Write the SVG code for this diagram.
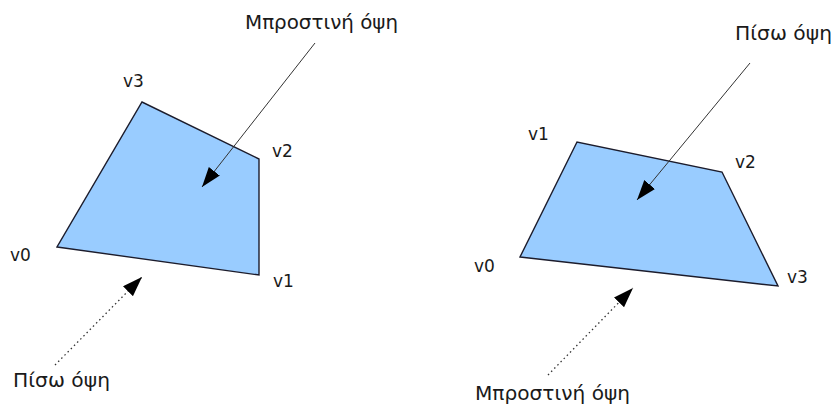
<svg xmlns="http://www.w3.org/2000/svg" width="835" height="408" viewBox="0 0 835 408">
<style>
.face{fill:#99ccff;stroke:#1c1c2c;stroke-width:1.4;stroke-linejoin:miter}
.lbl{font-family:"DejaVu Sans","Liberation Sans",sans-serif;font-size:17px;fill:#1a1a1a}
.cap{font-family:"DejaVu Sans","Liberation Sans",sans-serif;font-size:19px;fill:#1a1a1a}
.solid{stroke:#333;stroke-width:1;fill:none}
.dot{stroke:#333;stroke-width:1.3;fill:none;stroke-dasharray:1.5 3}
</style>
<defs>
<marker id="ah" markerUnits="userSpaceOnUse" markerWidth="22" markerHeight="16" refX="20" refY="7" orient="auto">
<path d="M0,0 L20,7 L0,14 Z" fill="#000"/>
</marker>
</defs>
<rect width="835" height="408" fill="#fff"/>
<g id="poly-left">
<polygon class="face" points="57,247 259,275 259,159 142,102"/>
<text class="lbl" x="10" y="261">v0</text>
<text class="lbl" x="273" y="287">v1</text>
<text class="lbl" x="272" y="157">v2</text>
<text class="lbl" x="123" y="87">v3</text>
</g>
<g id="poly-right">
<polygon class="face" points="520,257 778,286 722,172 577,142"/>
<text class="lbl" x="474" y="272">v0</text>
<text class="lbl" x="528" y="140">v1</text>
<text class="lbl" x="735" y="168">v2</text>
<text class="lbl" x="787" y="283">v3</text>
</g>
<g id="label-left-front">
<text class="cap" x="245" y="29" textLength="153" lengthAdjust="spacingAndGlyphs">Μπροστινή όψη</text>
</g>
<g id="label-left-back">
<text class="cap" x="13" y="387" textLength="97" lengthAdjust="spacingAndGlyphs">Πίσω όψη</text>
</g>
<g id="label-right-back">
<text class="cap" x="735" y="40" textLength="97" lengthAdjust="spacingAndGlyphs">Πίσω όψη</text>
</g>
<g id="label-right-front">
<text class="cap" x="475" y="400" textLength="155" lengthAdjust="spacingAndGlyphs">Μπροστινή όψη</text>
</g>
<g id="connectors">
<line class="solid" x1="315" y1="43" x2="202" y2="187" marker-end="url(#ah)"/>
<line class="dot" x1="55" y1="365" x2="142" y2="277" marker-end="url(#ah)"/>
<line class="solid" x1="750" y1="63" x2="637" y2="200" marker-end="url(#ah)"/>
<line class="dot" x1="548" y1="375" x2="633" y2="288" marker-end="url(#ah)"/>
</g>
</svg>
